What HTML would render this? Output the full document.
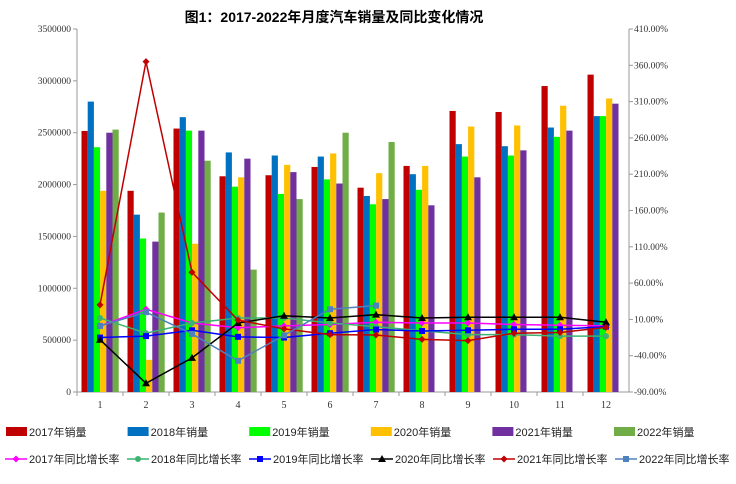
<!DOCTYPE html>
<html><head><meta charset="utf-8">
<style>
html,body{margin:0;padding:0;background:#fff;}
body{width:736px;height:479px;overflow:hidden;font-family:"Liberation Sans","Noto Sans CJK SC",sans-serif;}
</style></head>
<body>
<svg id="chart" width="736" height="479" xmlns="http://www.w3.org/2000/svg">
<text x="334" y="22" text-anchor="middle" font-size="14" font-weight="bold" font-family="Liberation Sans, Noto Sans CJK SC, sans-serif">图1：2017-2022年月度汽车销量及同比变化情况</text>
<g id="axes"></g><g id="bars"></g><g id="lines"></g><g id="legend"></g>
</svg>
<script>
const categories=['1','2','3','4','5','6','7','8','9','10','11','12'];
const barNames=['2017年销量','2018年销量','2019年销量','2020年销量','2021年销量','2022年销量'];
const barColors=['#c00000','#0070c0','#00ff00','#ffc000','#7030a0','#70ad47'];
const sales2017=[2517000,1940000,2540000,2080000,2090000,2170000,1970000,2180000,2710000,2700000,2950000,3060000];
const sales2018=[2800000,1710000,2650000,2310000,2280000,2270000,1890000,2100000,2390000,2370000,2550000,2660000];
const sales2019=[2360000,1480000,2520000,1980000,1910000,2050000,1810000,1950000,2270000,2280000,2460000,2660000];
const sales2020=[1940000,310000,1430000,2070000,2190000,2300000,2110000,2180000,2560000,2570000,2760000,2830000];
const sales2021=[2500000,1450000,2520000,2250000,2120000,2010000,1860000,1800000,2070000,2330000,2520000,2780000];
const sales2022=[2530000,1730000,2230000,1180000,1860000,2500000,2410000];
const lineNames=['2017年同比增长率','2018年同比增长率','2019年同比增长率','2020年同比增长率','2021年同比增长率','2022年同比增长率'];
const lineColors=['#ff00ff','#3cb371','#0000ff','#000000','#c00000','#4f81bd'];
const lineMarkers=['diamond','circle','square','triangle','diamond','square'];
const growth2017=[1,24,5,-1.5,1,3,6,5,5,3,2,1];
const growth2018=[12,-9,5,12,12,5,0,-5.6,-11,-11,-13,-13];
const growth2019=[-15,-13,-5,-14,-15,-9,-4,-6,-5,-3.6,-3.6,0];
const growth2020=[-18,-78,-43,5,15,12,16.5,12,13,13,13,6];
const growth2021=[30,365,75,9,-3,-11,-11.5,-17.5,-19.3,-9,-8,-1];
const growth2022=[1,20,-10,-47,-12,24,29];
const leftTicks=[0,500000,1000000,1500000,2000000,2500000,3000000,3500000];
const rightTicks=[-90,-40,10,60,110,160,210,260,310,360,410];

const NS='http://www.w3.org/2000/svg';
const X0=77,X1=629,Y0=392,Y1=29;
const bw=(X1-X0)/categories.length;
function yL(v){return Y0-(v/3500000)*(Y0-Y1);}
function yR(v){return Y0-((v+90)/500)*(Y0-Y1);}
function xC(i){return X0+bw*(i+0.5);}
function mk(tag,attrs,parent){const e=document.createElementNS(NS,tag);for(const k in attrs)e.setAttribute(k,attrs[k]);parent.appendChild(e);return e;}
const axes=document.getElementById('axes'),bars=document.getElementById('bars'),lines=document.getElementById('lines'),legend=document.getElementById('legend');
const serif='Liberation Serif, serif';
// axes
let a=mk('line',{x1:X0,y1:Y1,x2:X0,y2:Y0,stroke:'#999'},axes);


a=mk('line',{x1:X1,y1:Y1,x2:X1,y2:Y0,stroke:'#999'},axes);


a=mk('line',{x1:X0,y1:Y0,x2:X1,y2:Y0,stroke:'#999'},axes);


leftTicks.forEach(v=>{const y=yL(v);mk('line',{x1:X0-4,y1:y,x2:X0,y2:y,stroke:'#999'},axes);
 const t=mk('text',{x:X0-6,y:y+3,'text-anchor':'end','font-size':'9.5','font-family':serif,fill:'#333'},axes);t.textContent=v;
 
 });
rightTicks.forEach(v=>{const y=yR(v);mk('line',{x1:X1,y1:y,x2:X1+4,y2:y,stroke:'#999'},axes);
 const t=mk('text',{x:X1+5,y:y+3,'font-size':'9.5','font-family':serif,fill:'#333'},axes);t.textContent=v.toFixed(2)+'%';
 
 });
categories.forEach((c,i)=>{const x=X0+bw*i;mk('line',{x1:x,y1:Y0,x2:x,y2:Y0+4,stroke:'#999'},axes);
 const t=mk('text',{x:xC(i),y:Y0+16,'text-anchor':'middle','font-size':'10','font-family':serif,fill:'#333'},axes);t.textContent=c;
 
 });
// bars
const barSeries=[sales2017,sales2018,sales2019,sales2020,sales2021,sales2022];
const barW=6.2,gStart=4.5;
barSeries.forEach((s,si)=>{s.forEach((v,i)=>{const x=X0+bw*i+gStart+si*barW;const y=yL(v);
 const r=mk('rect',{x:x,y:y,width:barW,height:Y0-y,fill:barColors[si]},bars);
 
 });});
// lines
const lineSeries=[growth2017,growth2018,growth2019,growth2020,growth2021,growth2022];
function marker(type,x,y,color,parent){
 if(type==='diamond')return mk('polygon',{points:`${x},${y-3.5} ${x+3.5},${y} ${x},${y+3.5} ${x-3.5},${y}`,fill:color},parent);
 if(type==='circle')return mk('circle',{cx:x,cy:y,r:3,fill:color},parent);
 if(type==='square')return mk('rect',{x:x-3,y:y-3,width:6,height:6,fill:color},parent);
 return mk('polygon',{points:`${x},${y-4} ${x+4},${y+3} ${x-4},${y+3}`,fill:color},parent);}
lineSeries.forEach((s,si)=>{const pts=s.map((v,i)=>xC(i)+','+yR(v)).join(' ');
 const p=mk('polyline',{points:pts,fill:'none',stroke:lineColors[si],'stroke-width':1.5},lines);
 
 
 s.forEach((v,i)=>{const m=marker(lineMarkers[si],xC(i),yR(v),lineColors[si],lines);
  
  });});
// legend
const lf='Liberation Sans, Noto Sans CJK SC, sans-serif';
barNames.forEach((n,i)=>{const x=6+i*121.6;const g=mk('g',{},legend);
 
 
 mk('rect',{x:x,y:427,width:21,height:9,fill:barColors[i]},g);
 const t=mk('text',{x:x+23,y:436,'font-size':'11','font-family':lf,fill:'#222'},g);t.textContent=n;});
lineNames.forEach((n,i)=>{const x=5+i*122;const g=mk('g',{},legend);
 
 
 mk('line',{x1:x,y1:459,x2:x+22,y2:459,stroke:lineColors[i],'stroke-width':1.5},g);
 marker(lineMarkers[i],x+11,459,lineColors[i],g);
 const t=mk('text',{x:x+24,y:463,'font-size':'11','font-family':lf,fill:'#222'},g);t.textContent=n;});
</script>
</body></html>
